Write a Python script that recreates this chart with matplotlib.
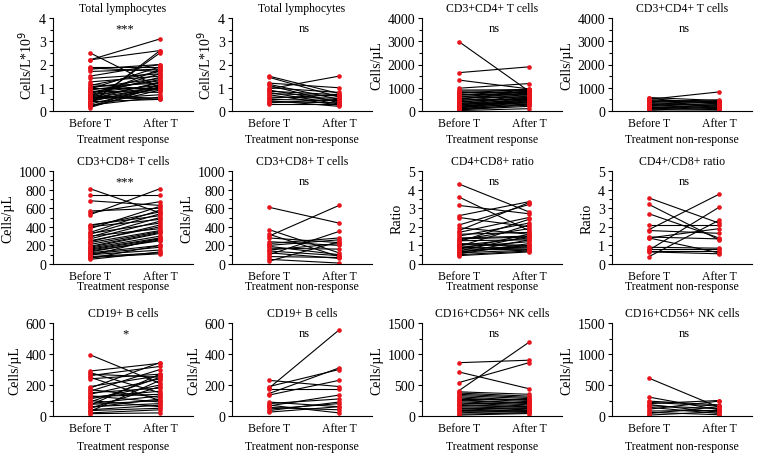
import matplotlib
matplotlib.use("Agg")
import matplotlib.pyplot as plt
from matplotlib.ticker import AutoMinorLocator

plt.rcParams['font.family'] = ['Liberation Serif', 'DejaVu Serif']

groups = ['Before T', 'After T']

# --- Total lymphocytes (Cells/L*10^9)
tl_resp_before = [2.5, 2.2, 2.2, 1.9, 1.85, 1.8, 1.7, 1.5, 1.4, 1.25, 1.15, 1.1, 1.05, 1.0, 0.95, 0.9, 0.85, 0.8, 0.75, 0.7,
                  0.7, 0.65, 0.6, 0.6, 0.55, 0.5, 0.5, 0.45, 0.4, 0.4, 0.35, 0.3, 0.3, 0.25, 0.2, 0.15, 1.0, 0.8, 0.6, 0.2]
tl_resp_after = [1.0, 3.1, 2.6, 1.9, 1.7, 2.0, 1.8, 2.0, 1.6, 1.5, 0.9, 1.7, 1.2, 1.0, 1.9, 1.3, 0.8, 1.1, 1.6, 1.0,
                 1.45, 0.55, 1.8, 1.2, 1.0, 1.25, 0.7, 0.95, 0.5, 1.1, 2.5, 2.6, 1.0, 0.6, 0.9, 1.05, 1.4, 1.35, 0.5, 1.15]
tl_non_before = [1.5, 1.45, 1.2, 1.15, 1.1, 1.0, 0.95, 0.9, 0.85, 0.8, 0.75, 0.7, 0.6, 0.55, 0.5, 0.45, 0.4, 0.35, 0.3]
tl_non_after = [0.75, 0.6, 1.0, 0.5, 0.35, 0.8, 1.5, 0.4, 0.7, 0.3, 0.65, 0.25, 0.55, 0.7, 0.45, 0.2, 0.35, 0.5, 0.3]

# --- CD3+CD4+ T cells
cd4_resp_before = [2980, 1650, 1330, 980, 900, 850, 800, 760, 720, 680, 640, 600, 560, 520, 480, 440, 400, 370,
                   340, 310, 280, 250, 220, 190, 160, 130, 100, 80, 60, 40, 20, 700, 500, 300, 150]
cd4_resp_after = [850, 1900, 950, 1180, 920, 880, 800, 950, 700, 900, 650, 850, 600, 780, 500, 720, 550, 650,
                  450, 600, 400, 550, 350, 500, 300, 450, 250, 400, 200, 300, 100, 750, 880, 350, 520]
cd4_non_before = [580, 540, 500, 470, 440, 400, 370, 330, 300, 270, 240, 200, 170, 140, 110, 80, 50, 30]
cd4_non_after = [450, 300, 820, 400, 350, 480, 200, 420, 250, 380, 150, 330, 100, 280, 60, 220, 40, 180]

# --- CD3+CD8+ T cells
cd8_resp_before = [810, 740, 680, 570, 550, 530, 420, 410, 400, 380, 340, 320, 300, 290, 270, 250, 230, 210,
                   190, 170, 160, 150, 130, 120, 110, 100, 90, 80, 70, 60, 50, 330, 240, 180, 140]
cd8_resp_after = [550, 740, 630, 600, 670, 810, 520, 560, 480, 620, 580, 540, 380, 500, 460, 400, 360, 350,
                  340, 300, 280, 270, 260, 200, 180, 150, 280, 120, 110, 200, 130, 440, 420, 330, 250]
cd8_non_before = [610, 370, 320, 300, 280, 240, 220, 200, 190, 170, 150, 140, 120, 100, 80, 50, 30]
cd8_non_after = [440, 120, 80, 630, 230, 200, 280, 260, 100, 160, 220, 90, 60, 350, 70, 10, 240]

# --- CD4+/CD8+ ratio
ratio_resp_before = [4.3, 3.6, 3.15, 2.6, 2.5, 2.1, 1.95, 1.8, 1.7, 1.6, 1.5, 1.4, 1.3, 1.25, 1.2, 1.1,
                     1.0, 0.95, 0.9, 0.85, 0.8, 0.75, 0.7, 0.65, 0.6, 0.55, 0.5, 0.45, 1.35, 1.05, 0.9, 0.6]
ratio_resp_after = [2.8, 1.8, 2.7, 3.35, 2.0, 3.2, 1.6, 3.3, 2.5, 1.7, 2.2, 1.5, 1.9, 1.3, 2.4, 1.0,
                    1.4, 2.1, 1.2, 0.9, 1.6, 0.8, 1.5, 1.0, 0.75, 1.1, 0.7, 0.65, 1.45, 0.95, 0.8, 1.3]
ratio_non_before = [3.55, 3.2, 2.7, 2.1, 1.85, 1.8, 1.45, 1.4, 1.4, 0.9, 0.8, 0.75, 0.7, 0.65, 0.4]
ratio_non_after = [2.2, 1.3, 1.4, 2.1, 3.75, 1.65, 1.35, 1.9, 0.6, 0.85, 0.8, 3.05, 0.7, 0.55, 2.35]

# --- CD19+ B cells
cd19_resp_before = [395, 290, 280, 270, 260, 250, 240, 190, 180, 170, 160, 150, 140, 130, 120, 110, 100, 90,
                    80, 70, 60, 55, 50, 40, 35, 30, 20, 15, 125, 75]
cd19_resp_after = [210, 340, 150, 250, 320, 100, 270, 260, 345, 120, 300, 180, 240, 90, 160, 200, 60, 250,
                   130, 270, 80, 110, 190, 70, 50, 230, 40, 20, 140, 100]
cd19_non_before = [230, 190, 180, 175, 145, 135, 90, 80, 70, 65, 55, 45, 35, 25]
cd19_non_after = [190, 300, 555, 175, 310, 230, 60, 110, 20, 135, 40, 80, 90, 60]

# --- CD16+CD56+ NK cells
nk_resp_before = [860, 710, 540, 410, 390, 370, 350, 330, 310, 290, 270, 250, 230, 210, 190, 170, 150, 130,
                  110, 90, 70, 50, 30, 15, 260, 180, 120]
nk_resp_after = [900, 440, 860, 1190, 350, 320, 300, 280, 250, 230, 270, 200, 180, 160, 220, 140, 120, 100,
                 130, 80, 60, 90, 50, 40, 210, 150, 70]
nk_non_before = [610, 305, 240, 220, 200, 185, 165, 140, 110, 80, 60, 40, 15]
nk_non_after = [140, 100, 180, 160, 250, 60, 120, 40, 240, 90, 20, 150, 70]

ylab_tl = 'Cells/L*10$^{9}$'
ylab_cells = 'Cells/µL'

panels = [
    # title, ylabel, ymax, ystep, sig, group, before, after
    ('Total lymphocytes', ylab_tl, 4, 1, '***', 'Treatment response', tl_resp_before, tl_resp_after),
    ('Total lymphocytes', ylab_tl, 4, 1, 'ns', 'Treatment non-response', tl_non_before, tl_non_after),
    ('CD3+CD4+ T cells', ylab_cells, 4000, 1000, 'ns', 'Treatment response', cd4_resp_before, cd4_resp_after),
    ('CD3+CD4+ T cells', ylab_cells, 4000, 1000, 'ns', 'Treatment non-response', cd4_non_before, cd4_non_after),
    ('CD3+CD8+ T cells', ylab_cells, 1000, 200, '***', 'Treatment response', cd8_resp_before, cd8_resp_after),
    ('CD3+CD8+ T cells', ylab_cells, 1000, 200, 'ns', 'Treatment non-response', cd8_non_before, cd8_non_after),
    ('CD4+CD8+ ratio', 'Ratio', 5, 1, 'ns', 'Treatment response', ratio_resp_before, ratio_resp_after),
    ('CD4+/CD8+ ratio', 'Ratio', 5, 1, 'ns', 'Treatment non-response', ratio_non_before, ratio_non_after),
    ('CD19+ B cells', ylab_cells, 600, 200, '*', 'Treatment response', cd19_resp_before, cd19_resp_after),
    ('CD19+ B cells', ylab_cells, 600, 200, 'ns', 'Treatment non-response', cd19_non_before, cd19_non_after),
    ('CD16+CD56+ NK cells', ylab_cells, 1500, 500, 'ns', 'Treatment response', nk_resp_before, nk_resp_after),
    ('CD16+CD56+ NK cells', ylab_cells, 1500, 500, 'ns', 'Treatment non-response', nk_non_before, nk_non_after),
]

W, H = 758, 456
fig = plt.figure(figsize=(W / 100, H / 100), dpi=100)

col_left = [53, 232, 422, 612]
row_top = [19, 172, 324]
row_xlabelpad = [3, -1, 5]
ax_w, ax_h = 140, 93

for i, (title, ylab, ymax, ystep, sig, grp, before, after) in enumerate(panels):
    r, c = divmod(i, 4)
    ax = fig.add_axes([col_left[c] / W, 1 - (row_top[r] + ax_h) / H, ax_w / W, ax_h / H])
    for b, a in zip(before, after):
        ax.plot([1, 2], [b, a], color='black', lw=0.8, zorder=1)
    ax.scatter([1] * len(before), before, s=11, color='#e8141c', zorder=2, linewidths=0)
    ax.scatter([2] * len(after), after, s=11, color='#e8141c', zorder=2, linewidths=0)

    ax.set_xlim(0.471, 2.471)
    ax.set_ylim(0, ymax)
    ax.set_yticks([ystep * k for k in range(int(round(ymax / ystep)) + 1)])
    ax.yaxis.set_minor_locator(AutoMinorLocator(2))
    ax.set_xticks([1, 2])
    ax.set_xticklabels(groups, fontsize=8.5)
    ax.tick_params(axis='x', length=0, pad=4)
    ax.tick_params(axis='y', which='major', labelsize=10, length=3, width=0.8, pad=2)
    ax.tick_params(axis='y', which='minor', length=2, width=0.8)
    for s in ['top', 'right']:
        ax.spines[s].set_visible(False)
    ax.spines['left'].set_linewidth(0.8)
    ax.spines['bottom'].set_linewidth(0.8)

    ax.set_title(title, fontsize=8.5, pad=5)
    ax.set_ylabel(ylab, fontsize=10, labelpad=3)
    ax.set_xlabel(grp, fontsize=8.5, labelpad=row_xlabelpad[r])
    ax.text(1.5, ymax * 0.89, sig, ha='center', va='center', fontsize=9)

fig.savefig('out.png', dpi=100)
